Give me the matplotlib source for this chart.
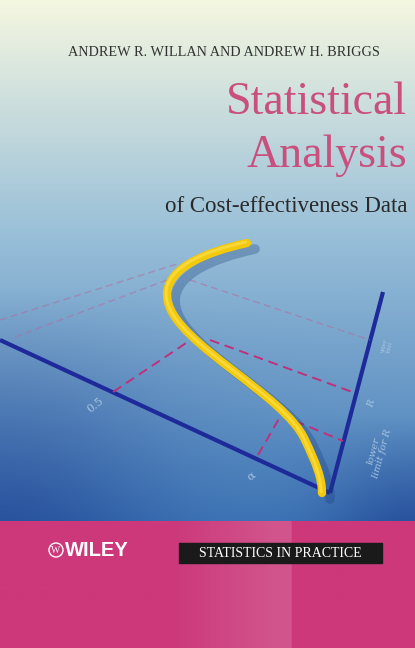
import numpy as np
import matplotlib.pyplot as plt
from matplotlib.path import Path
from matplotlib.patches import PathPatch, Circle

W, H = 415, 648

# curve through the page as cubic bezier control points (pixel coords off the cover)
curve_pts = [(247, 243), (205, 252), (160, 270), (168, 302),
             (178, 345), (285, 395), (305, 440),
             (316, 463), (322, 478), (322, 493)]

left_axis = ([0, 330], [340, 493])
right_axis = ([330, 383], [493, 292])

dash_strong = [([113, 195], [392, 337]), ([210, 355], [340, 393]),
               ([258, 280], [455, 417]), ([295, 343], [421, 441])]
dash_faint = [([15, 167], [337, 280]), ([190, 370], [280, 340]),
              ([0, 180], [320, 263])]

fig = plt.figure(figsize=(W / 100, H / 100), dpi=100)
ax = fig.add_axes([0, 0, 1, 1])
ax.set_xlim(0, W)
ax.set_ylim(H, 0)
ax.axis('off')

# background gradient for the upper picture
yy, xx = np.mgrid[0:521, 0:W] / np.array([520.0, W - 1.0])[:, None, None]
t = np.clip(yy, 0, 1)[..., None]
top = np.array([0.96, 0.97, 0.88])
mid = np.array([0.60, 0.75, 0.85])
bot = np.array([0.25, 0.47, 0.72])
img = np.where(t < 0.45, top + (mid - top) * (t / 0.45),
               mid + (bot - mid) * ((t - 0.45) / 0.55))
dark = np.exp(-(xx ** 2) / 0.15) * np.clip((yy - 0.55) / 0.45, 0, 1)
dark += np.exp(-((xx - 1.0) ** 2) / 0.05) * np.clip((yy - 0.8) / 0.2, 0, 1)
dark = dark[..., None]
img = img * (1 - 0.45 * dark) + np.array([0.05, 0.15, 0.5]) * 0.45 * dark
ax.imshow(np.clip(img, 0, 1), extent=[0, W, 521, 0], aspect='auto', zorder=0)

# pink band at the bottom with a soft lighter stripe
xs = np.arange(W)
band = np.clip((xs - 170) / 100.0, 0, 1)
band[xs > 290] = 0
base = np.array([0.80, 0.22, 0.48])
light = np.array([0.82, 0.33, 0.55])
pink = (base + (light - base) * band[:, None])[None, :, :]
ax.imshow(pink, extent=[0, W, H, 521], aspect='auto', zorder=0)

# axes of the drawing
ax.plot(*left_axis, color='#1e2a9a', lw=3, solid_capstyle='butt', zorder=2)
ax.plot(*right_axis, color='#1e2a9a', lw=3, solid_capstyle='butt', zorder=2)
for xs_, ys_ in dash_strong:
    ax.plot(xs_, ys_, color='#c0307a', lw=1.4, ls=(0, (5, 3)), zorder=2)
for xs_, ys_ in dash_faint:
    ax.plot(xs_, ys_, color='#b070a0', lw=1.0, ls=(0, (5, 3)), alpha=0.6, zorder=2)

# shadow and the yellow curve
codes = [Path.MOVETO] + [Path.CURVE4] * (len(curve_pts) - 1)
pts = np.array(curve_pts, float)
ax.add_patch(PathPatch(Path(pts + [8, 6], codes), fill=False, ec='#1a3c78', lw=7,
                       alpha=0.3, capstyle='round', zorder=3))
ax.add_patch(PathPatch(Path(pts, codes), fill=False, ec='#f3c90c', lw=6,
                       capstyle='round', zorder=4))
ax.add_patch(PathPatch(Path(pts - [1, 1], codes), fill=False, ec='#fde35a', lw=2,
                       alpha=0.6, capstyle='round', zorder=5))

# axis labels inside the drawing
lab = dict(color='#a8c4e0', family='DejaVu Serif', zorder=3)
ax.text(95, 405, '0.5', fontsize=8, rotation=38, ha='center', va='center', **lab)
ax.text(251, 476, 'α', fontsize=8, rotation=38, ha='center', va='center', **lab)
ax.text(372, 404, 'R', fontsize=7, style='italic', rotation=75, ha='center', va='center', **lab)
ax.text(378, 452, 'lower\nlimit for R', fontsize=7, style='italic', rotation=75,
        ha='center', va='center', linespacing=1.0, **lab)
ax.text(387, 346, 'upper\nlimit', fontsize=3.5, rotation=75, ha='center', va='center', **lab)

# titles
serif = 'Liberation Serif'
ax.text(224, 53, 'ANDREW R. WILLAN AND ANDREW H. BRIGGS', fontsize=10.3, family=serif,
        color='#333333', ha='center', va='center')
ax.text(407, 103, 'Statistical', fontsize=33, family=serif, color='#c94f7c',
        ha='right', va='center')
ax.text(407, 156, 'Analysis', fontsize=33, family=serif, color='#c94f7c',
        ha='right', va='center')
ax.text(407, 206, 'of Cost-effectiveness Data', fontsize=16.5, family=serif,
        color='#2a2a2a', ha='right', va='center')

# footer: Wiley logo (circle mark drawn as a shape) and series box
ax.add_patch(Circle((56, 550), 7, fill=False, ec='white', lw=1.0, zorder=6))
ax.text(56, 550.5, 'W', fontsize=7, color='white', family=serif, ha='center', va='center', zorder=6)
ax.text(65, 550, 'WILEY', fontsize=14.5, color='white', weight='bold', family='Liberation Sans',
        ha='left', va='center', zorder=6)
ax.fill_between([179, 382], 543, 563, color='#1a1a1a', zorder=5)
ax.text(280, 553.5, 'STATISTICS IN PRACTICE', fontsize=10, family=serif, color='white',
        ha='center', va='center', zorder=6)

fig.savefig('out.png', dpi=100)
